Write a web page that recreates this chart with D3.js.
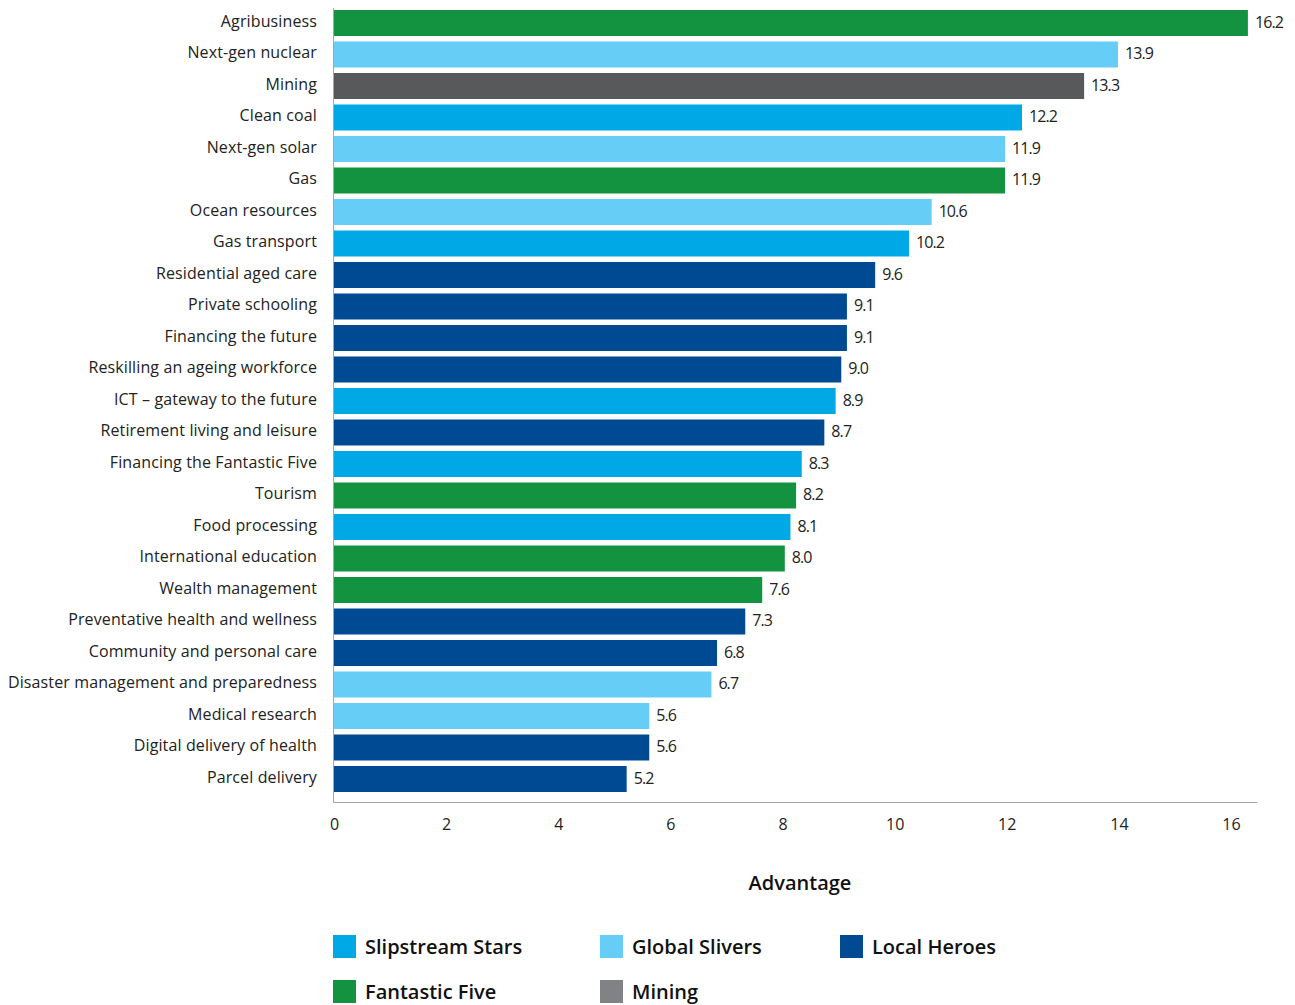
<!DOCTYPE html>
<html><head><meta charset="utf-8">
<script src="https://cdn.jsdelivr.net/npm/d3@7"></script>
<style>
body{margin:0;background:#fff;}
svg text{font-family:"Open Sans","Noto Sans",sans-serif;}
</style></head>
<body><svg id="c" width="1295" height="1005"></svg>
<script>
const categories = ["Agribusiness","Next-gen nuclear","Mining","Clean coal","Next-gen solar","Gas","Ocean resources","Gas transport","Residential aged care","Private schooling","Financing the future","Reskilling an ageing workforce","ICT – gateway to the future","Retirement living and leisure","Financing the Fantastic Five","Tourism","Food processing","International education","Wealth management","Preventative health and wellness","Community and personal care","Disaster management and preparedness","Medical research","Digital delivery of health","Parcel delivery"];
const values = [16.2,13.9,13.3,12.2,11.9,11.9,10.6,10.2,9.6,9.1,9.1,9.0,8.9,8.7,8.3,8.2,8.1,8.0,7.6,7.3,6.8,6.7,5.6,5.6,5.2];
const groups = ["Fantastic Five","Global Slivers","Mining","Slipstream Stars","Global Slivers","Fantastic Five","Global Slivers","Slipstream Stars","Local Heroes","Local Heroes","Local Heroes","Local Heroes","Slipstream Stars","Local Heroes","Slipstream Stars","Fantastic Five","Slipstream Stars","Fantastic Five","Fantastic Five","Local Heroes","Local Heroes","Global Slivers","Global Slivers","Local Heroes","Local Heroes"];
const legendNames = ["Slipstream Stars","Global Slivers","Local Heroes","Fantastic Five","Mining"];
const xTicks = [0,2,4,6,8,10,12,14,16];
const axisTitle = "Advantage";

const barColor = {"Slipstream Stars":"#00a9e6","Global Slivers":"#66cdf6","Local Heroes":"#004a93","Fantastic Five":"#139340","Mining":"#58595b"};
const legendColor = Object.assign({}, barColor, {"Mining":"#808285"});

const svg = d3.select("#c");
const x0 = 333, x1 = 1257.5, yAxis = 802;
const x = d3.scaleLinear().domain([0,16.37]).range([x0,x1]);
// tick labels in the reference sit on a slightly tighter spacing than the bars
const xLab = d3.scaleLinear().domain([0,16]).range([334,1231]);
const pi = 5.5/31.5, po = 2/31.5;
const y = d3.scaleBand().domain(categories).range([8, 8 + 31.5*(25 - pi + 2*po)]).paddingInner(pi).paddingOuter(po);

const data = categories.map((c,i)=>({c, v:values[i], g:groups[i]}));

svg.append("g").selectAll("rect").data(data).join("rect")
  .attr("x", x(0)).attr("y", d=>y(d.c))
  .attr("width", d=>x(d.v)-x(0)).attr("height", y.bandwidth())
  .attr("fill", d=>barColor[d.g]);

// value labels
svg.append("g").selectAll("text").data(data).join("text")
  .attr("x", d=>x(d.v)+7).attr("y", d=>y(d.c)+y.bandwidth()/2)
  .attr("dy","0.3em").attr("font-size",16).attr("letter-spacing","-0.9px").attr("fill","#222")
  .text(d=>d3.format(".1f")(d.v));

// y axis
const ya = svg.append("g").attr("transform",`translate(${x0},0)`)
  .call(d3.axisLeft(y).tickSize(0).tickPadding(16));
ya.select(".domain").attr("stroke","#a6a6a6").attr("d",`M0.5,8V${yAxis}`);
ya.selectAll("text").attr("font-size",16).attr("letter-spacing","0.12px").attr("dy","0.22em")
  .attr("fill","#222").attr("font-family","'Open Sans',sans-serif");

// x axis
const xa = svg.append("g").attr("transform",`translate(0,${yAxis})`)
  .call(d3.axisBottom(xLab).tickValues(xTicks).tickSize(0).tickPadding(17).tickFormat(d3.format("d")));
xa.select(".domain").attr("stroke","#a6a6a6").attr("d",`M${x0},0.5H${x1}`);
xa.selectAll("text").attr("font-size",16).attr("fill","#222").attr("font-family","'Open Sans',sans-serif");

svg.append("text").attr("x",800).attr("y",890).attr("text-anchor","middle")
  .attr("font-size",20).attr("font-weight",600).attr("fill","#111").text(axisTitle);

// legend
const legPos = [[333,935],[600,935],[840,935],[333,980],[600,980]];
const lg = svg.append("g").selectAll("g").data(legendNames).join("g")
  .attr("transform",(d,i)=>`translate(${legPos[i][0]},${legPos[i][1]})`);
lg.append("rect").attr("width",23).attr("height",23).attr("fill",d=>legendColor[d]);
lg.append("text").attr("x",32).attr("y",12).attr("dy","0.35em")
  .attr("font-size",20).attr("font-weight",600).attr("fill","#111").text(d=>d);
</script></body></html>
